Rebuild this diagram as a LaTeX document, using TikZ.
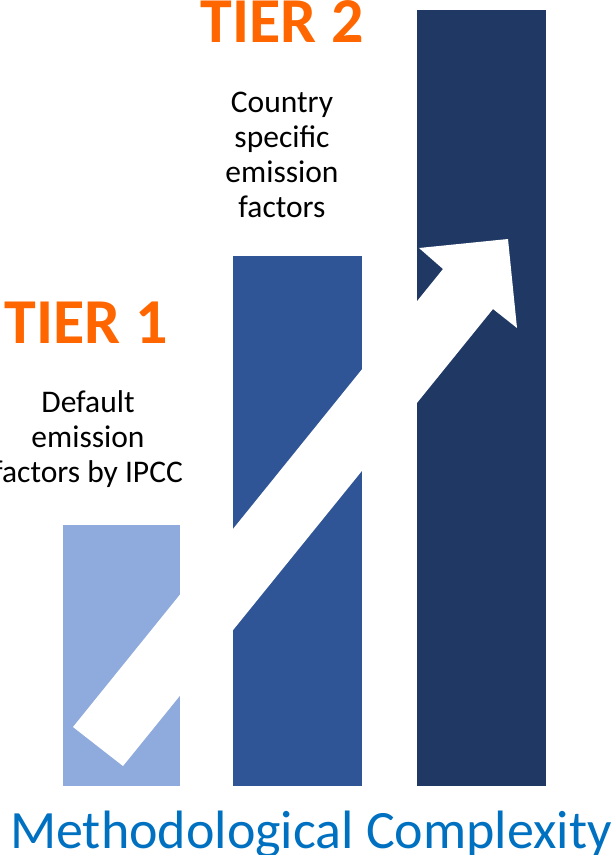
\documentclass[tikz,border=0pt]{standalone}
\usepackage{fontspec}
\setmainfont{Carlito}
\usetikzlibrary{positioning}
\definecolor{tierorange}{RGB}{255,102,0}
\definecolor{barlight}{RGB}{143,170,220}
\definecolor{barmid}{RGB}{47,85,151}
\definecolor{bardark}{RGB}{31,56,100}
\definecolor{axisblue}{RGB}{0,112,192}
\tikzstyle{bar} = [rectangle, draw=none, anchor=south west, inner sep=0pt]
\tikzstyle{tier} = [text=tierorange, font=\fontsize{64}{64}\selectfont\bfseries, anchor=base, inner sep=0pt]
\tikzstyle{desc} = [align=center, font=\fontsize{31.5}{35}\selectfont, anchor=base, inner sep=0pt]

\begin{document}
\begin{tikzpicture}[x=1pt,y=-1pt]
    \useasboundingbox (0,0) rectangle (613,855);
	\node[bar, fill=barlight, minimum width=117pt, minimum height=261pt](bar1) at (63,786){};
	\node[bar, fill=barmid, minimum width=129pt, minimum height=530pt](bar2) at (233,786){};
	\node[bar, fill=bardark, minimum width=129pt, minimum height=776pt](bar3) at (417,786){};

	% rising arrow across the bars
	\fill[white] (73,727) -- (443,269) -- (419,248) -- (508,239) -- (517,328) -- (493,309) -- (123,766) -- cycle;

	\node[tier](tier1) at (86,343){TIER 1};
	\node[tier](tier2) at (282,42){TIER 2};
	\node[desc](desc1) at (88,482){Default\\ emission\\ factors by IPCC};
	\node[desc](desc2) at (282,217){Country\\ specific\\ emission\\ factors};

	\node[text=axisblue, font=\fontsize{54}{54}\selectfont, anchor=base, inner sep=0pt](axis) at (311,848){Methodological Complexity};
\end{tikzpicture}
\end{document}
